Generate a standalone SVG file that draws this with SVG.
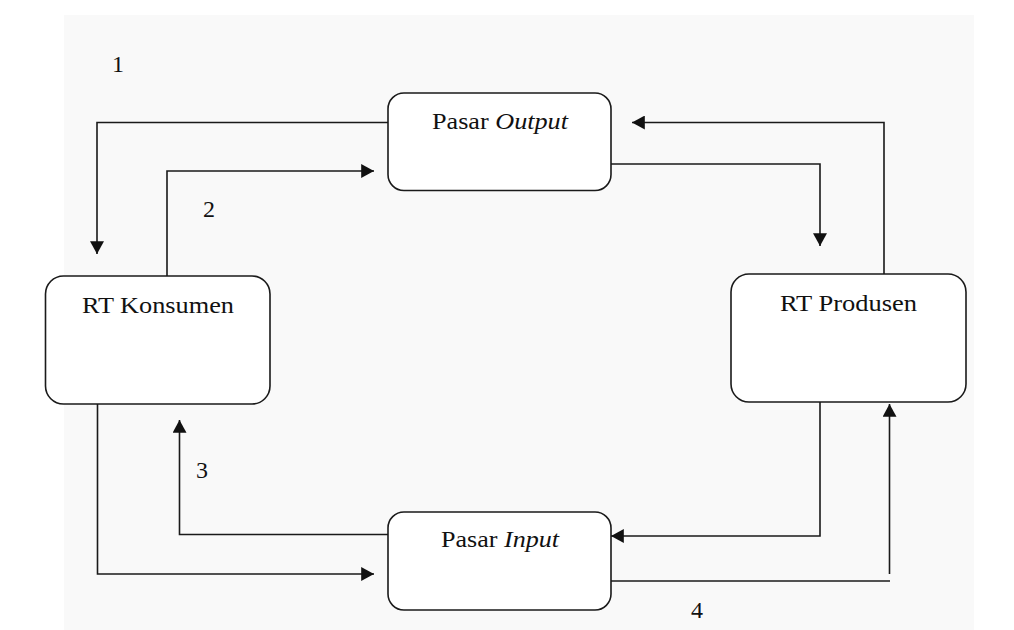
<svg xmlns="http://www.w3.org/2000/svg" width="1014" height="630" viewBox="0 0 1014 630">
<style>
.box{fill:#ffffff;stroke:#1a1a1a;stroke-width:1.6}
.lbl{font-family:"Liberation Serif","Times New Roman",serif;font-size:24px;fill:#111}
.num{font-family:"Liberation Serif","Times New Roman",serif;font-size:24px;fill:#111}
.con{fill:none;stroke:#1a1a1a;stroke-width:1.6}
</style>
<defs>
<marker id="ah" markerUnits="userSpaceOnUse" markerWidth="14" markerHeight="14" viewBox="0 0 12 12" refX="11" refY="6" orient="auto">
<path d="M0,0 L11,6 L0,12 Z" fill="#111"/>
</marker>
</defs>
<rect x="0" y="0" width="1014" height="630" fill="#ffffff"/>
<rect x="64" y="15" width="910" height="615" fill="#f9f9f9"/>
<g id="connectors">
<polyline class="con" points="388,122.5 97,122.5 97,254" marker-end="url(#ah)"/>
<polyline class="con" points="167,276 167,171 374,171" marker-end="url(#ah)"/>
<polyline class="con" points="611,164 820,164 820,246" marker-end="url(#ah)"/>
<polyline class="con" points="884,274 884,122.5 632,122.5" marker-end="url(#ah)"/>
<polyline class="con" points="97.5,404 97.5,574 374,574" marker-end="url(#ah)"/>
<polyline class="con" points="388,534.5 179.5,534.5 179.5,420" marker-end="url(#ah)"/>
<polyline class="con" points="820,402 820,536 611,536" marker-end="url(#ah)"/>
<polyline class="con" points="611,581 890,581"/>
<polyline class="con" points="889.5,574 889.5,404" marker-end="url(#ah)"/>
</g>
<g id="pasar-output">
<rect class="box" x="388" y="93" width="223" height="97.5" rx="16"/>
<text class="lbl" x="500" y="129" text-anchor="middle" textLength="136" lengthAdjust="spacingAndGlyphs">Pasar <tspan font-style="italic">Output</tspan></text>
</g>
<g id="rt-konsumen">
<rect class="box" x="45.5" y="276" width="224.5" height="128" rx="18"/>
<text class="lbl" x="158" y="313" text-anchor="middle" textLength="152" lengthAdjust="spacingAndGlyphs">RT Konsumen</text>
</g>
<g id="rt-produsen">
<rect class="box" x="731" y="274" width="235" height="128" rx="18"/>
<text class="lbl" x="848.5" y="310.5" text-anchor="middle" textLength="137" lengthAdjust="spacingAndGlyphs">RT Produsen</text>
</g>
<g id="pasar-input">
<rect class="box" x="388" y="512" width="223" height="98" rx="16"/>
<text class="lbl" x="500" y="547" text-anchor="middle" textLength="118" lengthAdjust="spacingAndGlyphs">Pasar <tspan font-style="italic">Input</tspan></text>
</g>
<g id="labels">
<text class="num" x="118" y="72" text-anchor="middle">1</text>
<text class="num" x="209" y="217" text-anchor="middle">2</text>
<text class="num" x="202" y="478" text-anchor="middle">3</text>
<text class="num" x="697" y="618" text-anchor="middle">4</text>
</g>
</svg>
